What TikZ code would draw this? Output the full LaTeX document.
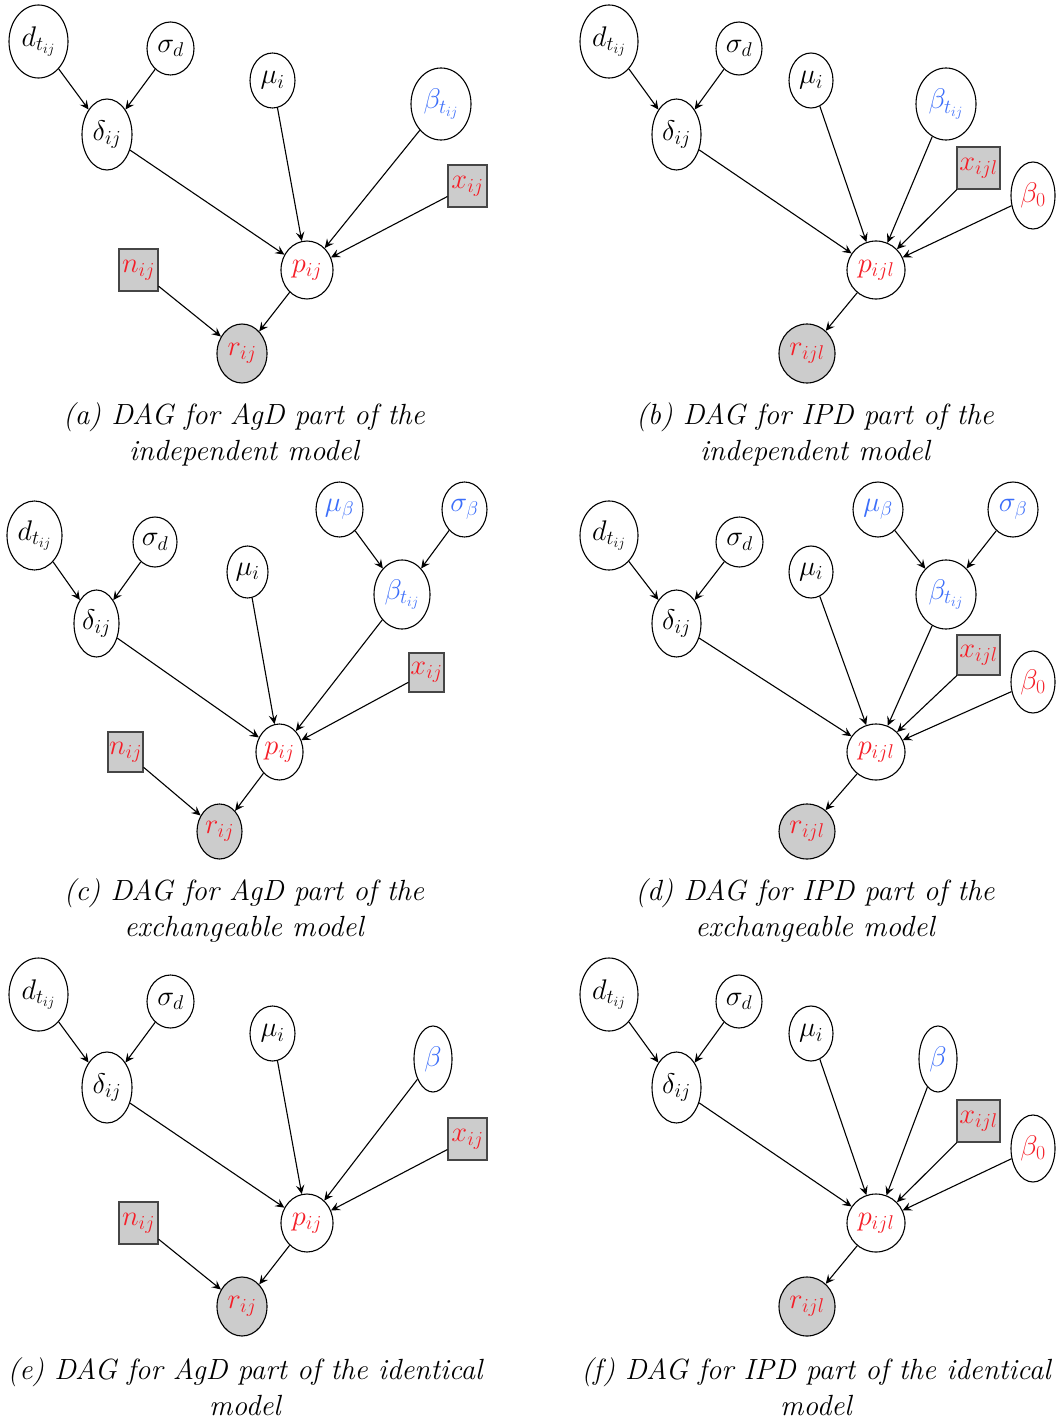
\RequirePackage{fix-cm}
\documentclass[tikz,border=0pt]{standalone}
\usetikzlibrary{shapes.geometric,arrows.meta}
\definecolor{varred}{RGB}{245,30,40}
\definecolor{varblue}{RGB}{60,110,250}
\definecolor{obsgray}{RGB}{204,204,204}
\definecolor{boxedge}{RGB}{70,70,70}
\begin{document}
\begin{tikzpicture}[x=1bp,y=-1bp,
  every node/.style={font=\fontsize{28.5}{33}\selectfont},
  var/.style n args={2}{ellipse, draw, line width=1.1bp, inner sep=0pt, fill=white,
    minimum width=#1bp, minimum height=#2bp},
  obs/.style n args={2}{ellipse, draw, line width=1.1bp, inner sep=0pt, fill=obsgray,
    minimum width=#1bp, minimum height=#2bp, text=varred},
  datum/.style n args={2}{rectangle, draw=boxedge, line width=1.1bp, inner sep=0pt, fill=obsgray,
    minimum width=#1bp, minimum height=#2bp, text=varred},
  rd/.style={text=varred},
  bl/.style={text=varblue},
  edge/.style={-{Stealth[length=9bp,width=8.5bp,inset=3.5bp]}, line width=1.1bp},
  caption/.style={font=\fontsize{29.3}{36}\selectfont\itshape, align=center}]
\useasboundingbox (0,0) rectangle (1055,1421);

% ---------- (a) AgD, independent ----------
\node[var={59}{73}] (a-d) at (38.5,41.5) {$d_{t_{ij}}$};
\node[var={47}{53}] (a-s) at (170.5,48.5) {$\sigma_d$};
\node[var={50}{71}] (a-delta) at (107,134.5) {$\delta_{ij}$};
\node[var={45}{55}] (a-mu) at (272.5,80.5) {$\mu_i$};
\node[var={60}{72},bl] (a-beta) at (441,104) {$\beta_{t_{ij}}$};
\node[datum={39}{42}] (a-x) at (467.5,186) {$x_{ij}$};
\node[var={52}{58},rd] (a-p) at (307,270) {$p_{ij}$};
\node[datum={39}{42}] (a-n) at (138.5,270) {$n_{ij}$};
\node[obs={50}{59}] (a-r) at (242,353.5) {$r_{ij}$};
\draw[edge] (a-d) -- (a-delta);
\draw[edge] (a-s) -- (a-delta);
\draw[edge] (a-delta) -- (a-p);
\draw[edge] (a-mu) -- (a-p);
\draw[edge] (a-beta) -- (a-p);
\draw[edge] (a-x) -- (a-p);
\draw[edge] (a-p) -- (a-r);
\draw[edge] (a-n) -- (a-r);
\node[caption] (a-cap) at (244,434) {(a) DAG for AgD part of the\\independent model};

% ---------- (b) IPD, independent ----------
\node[var={58}{73}] (b-d) at (609,41.5) {$d_{t_{ij}}$};
\node[var={46}{53}] (b-s) at (739,48.5) {$\sigma_d$};
\node[var={49}{71}] (b-delta) at (676.5,134.5) {$\delta_{ij}$};
\node[var={44}{55}] (b-mu) at (811,80.5) {$\mu_i$};
\node[var={60}{72},bl] (b-beta) at (946,104) {$\beta_{t_{ij}}$};
\node[datum={43}{42}] (b-x) at (978.5,168) {$x_{ijl}$};
\node[var={44}{67},rd] (b-b0) at (1033,195.5) {$\beta_0$};
\node[var={58}{58},rd] (b-p) at (876,270) {$p_{ijl}$};
\node[obs={56}{59}] (b-r) at (807,353.5) {$r_{ijl}$};
\draw[edge] (b-d) -- (b-delta);
\draw[edge] (b-s) -- (b-delta);
\draw[edge] (b-delta) -- (b-p);
\draw[edge] (b-mu) -- (b-p);
\draw[edge] (b-beta) -- (b-p);
\draw[edge] (b-x) -- (b-p);
\draw[edge] (b-b0) -- (b-p);
\draw[edge] (b-p) -- (b-r);
\node[caption] (b-cap) at (815,434) {(b) DAG for IPD part of the\\independent model};

% ---------- (c) AgD, exchangeable ----------
\node[var={55}{69}] (c-d) at (34.5,535.5) {$d_{t_{ij}}$};
\node[var={44}{50}] (c-s) at (155,542) {$\sigma_d$};
\node[var={45}{67}] (c-delta) at (96.5,623.5) {$\delta_{ij}$};
\node[var={41}{52}] (c-mu) at (247.5,572) {$\mu_i$};
\node[var={47}{55},bl] (c-mub) at (339.5,509.5) {$\mu_\beta$};
\node[var={45}{55},bl] (c-sb) at (464.5,509.5) {$\sigma_\beta$};
\node[var={56}{69},bl] (c-beta) at (402,594.5) {$\beta_{t_{ij}}$};
\node[datum={35}{39}] (c-x) at (426.5,672.5) {$x_{ij}$};
\node[var={47}{56},rd] (c-p) at (279.5,752) {$p_{ij}$};
\node[datum={35}{40}] (c-n) at (125.5,752) {$n_{ij}$};
\node[obs={45}{55}] (c-r) at (219.5,831.5) {$r_{ij}$};
\draw[edge] (c-d) -- (c-delta);
\draw[edge] (c-s) -- (c-delta);
\draw[edge] (c-mub) -- (c-beta);
\draw[edge] (c-sb) -- (c-beta);
\draw[edge] (c-delta) -- (c-p);
\draw[edge] (c-mu) -- (c-p);
\draw[edge] (c-beta) -- (c-p);
\draw[edge] (c-x) -- (c-p);
\draw[edge] (c-p) -- (c-r);
\draw[edge] (c-n) -- (c-r);
\node[caption] (c-cap) at (244,910.5) {(c) DAG for AgD part of the\\exchangeable model};

% ---------- (d) IPD, exchangeable ----------
\node[var={58}{69}] (d-d) at (609,535.5) {$d_{t_{ij}}$};
\node[var={47}{50}] (d-s) at (739.5,542) {$\sigma_d$};
\node[var={49}{67}] (d-delta) at (676.5,623.5) {$\delta_{ij}$};
\node[var={44}{52}] (d-mu) at (811,572) {$\mu_i$};
\node[var={50}{55},bl] (d-mub) at (878,509.5) {$\mu_\beta$};
\node[var={50}{55},bl] (d-sb) at (1013,509.5) {$\sigma_\beta$};
\node[var={60}{69},bl] (d-beta) at (946,594.5) {$\beta_{t_{ij}}$};
\node[datum={43}{40}] (d-x) at (978.5,655) {$x_{ijl}$};
\node[var={44}{62},rd] (d-b0) at (1033,682) {$\beta_0$};
\node[var={58}{56},rd] (d-p) at (876,752) {$p_{ijl}$};
\node[obs={56}{55}] (d-r) at (807,831.5) {$r_{ijl}$};
\draw[edge] (d-d) -- (d-delta);
\draw[edge] (d-s) -- (d-delta);
\draw[edge] (d-mub) -- (d-beta);
\draw[edge] (d-sb) -- (d-beta);
\draw[edge] (d-delta) -- (d-p);
\draw[edge] (d-mu) -- (d-p);
\draw[edge] (d-beta) -- (d-p);
\draw[edge] (d-x) -- (d-p);
\draw[edge] (d-b0) -- (d-p);
\draw[edge] (d-p) -- (d-r);
\node[caption] (d-cap) at (815,910.5) {(d) DAG for IPD part of the\\exchangeable model};

% ---------- (e) AgD, identical ----------
\node[var={59}{73}] (e-d) at (38.5,994.5) {$d_{t_{ij}}$};
\node[var={47}{53}] (e-s) at (170.5,1001.5) {$\sigma_d$};
\node[var={50}{71}] (e-delta) at (107,1087.5) {$\delta_{ij}$};
\node[var={45}{55}] (e-mu) at (272.5,1033.5) {$\mu_i$};
\node[var={38}{66},bl] (e-beta) at (433,1059) {$\beta$};
\node[datum={39}{42}] (e-x) at (467.5,1139) {$x_{ij}$};
\node[var={52}{58},rd] (e-p) at (307,1223) {$p_{ij}$};
\node[datum={39}{42}] (e-n) at (138.5,1223) {$n_{ij}$};
\node[obs={50}{59}] (e-r) at (242,1306.5) {$r_{ij}$};
\draw[edge] (e-d) -- (e-delta);
\draw[edge] (e-s) -- (e-delta);
\draw[edge] (e-delta) -- (e-p);
\draw[edge] (e-mu) -- (e-p);
\draw[edge] (e-beta) -- (e-p);
\draw[edge] (e-x) -- (e-p);
\draw[edge] (e-p) -- (e-r);
\draw[edge] (e-n) -- (e-r);
\node[caption] (e-cap) at (245,1387) {(e) DAG for AgD part of the identical\\model};

% ---------- (f) IPD, identical ----------
\node[var={58}{73}] (f-d) at (609,994.5) {$d_{t_{ij}}$};
\node[var={46}{53}] (f-s) at (739,1001.5) {$\sigma_d$};
\node[var={49}{71}] (f-delta) at (676.5,1087.5) {$\delta_{ij}$};
\node[var={44}{55}] (f-mu) at (811,1033.5) {$\mu_i$};
\node[var={38}{66},bl] (f-beta) at (938,1059) {$\beta$};
\node[datum={43}{42}] (f-x) at (978.5,1121) {$x_{ijl}$};
\node[var={44}{67},rd] (f-b0) at (1033,1148.5) {$\beta_0$};
\node[var={58}{58},rd] (f-p) at (876,1223) {$p_{ijl}$};
\node[obs={56}{59}] (f-r) at (807,1306.5) {$r_{ijl}$};
\draw[edge] (f-d) -- (f-delta);
\draw[edge] (f-s) -- (f-delta);
\draw[edge] (f-delta) -- (f-p);
\draw[edge] (f-mu) -- (f-p);
\draw[edge] (f-beta) -- (f-p);
\draw[edge] (f-x) -- (f-p);
\draw[edge] (f-b0) -- (f-p);
\draw[edge] (f-p) -- (f-r);
\node[caption] (f-cap) at (816,1387) {(f) DAG for IPD part of the identical\\model};
\end{tikzpicture}
\end{document}
